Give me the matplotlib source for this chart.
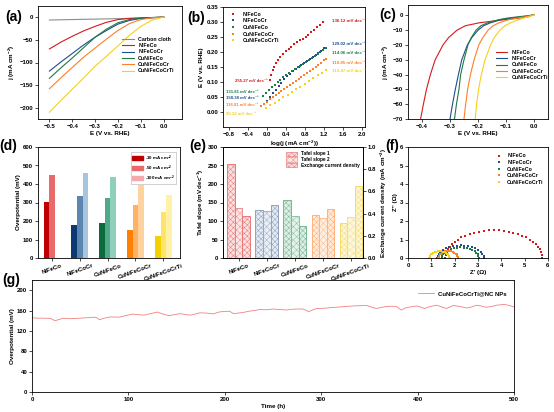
import numpy as np
import matplotlib
matplotlib.use("Agg")
import matplotlib.pyplot as plt
from matplotlib.patches import Patch

plt.rcParams["font.family"] = ["Liberation Sans", "DejaVu Sans"]
plt.rcParams["font.weight"] = "bold"
plt.rcParams["axes.labelweight"] = "bold"
plt.rcParams["mathtext.fontset"] = "custom"
plt.rcParams["mathtext.rm"] = "Liberation Sans:bold"
plt.rcParams["mathtext.it"] = "Liberation Sans:bold"
plt.rcParams["mathtext.bf"] = "Liberation Sans:bold"
plt.rcParams["mathtext.default"] = "rm"
plt.rcParams["font.size"] = 4.5
plt.rcParams["axes.linewidth"] = 0.6
plt.rcParams["xtick.major.width"] = 0.5
plt.rcParams["ytick.major.width"] = 0.5
plt.rcParams["xtick.major.size"] = 2
plt.rcParams["ytick.major.size"] = 2
plt.rcParams["xtick.major.pad"] = 1.5
plt.rcParams["ytick.major.pad"] = 1.5
plt.rcParams["axes.labelpad"] = 1.5
plt.rcParams["hatch.linewidth"] = 0.35
plt.rcParams["legend.fontsize"] = 3.8

W, H = 554, 412

samples = ["NiFeCo", "NiFeCoCr", "CuNiFeCo", "CuNiFeCoCr", "CuNiFeCoCrTi"]
colors = ["#D7191C", "#1F4E8C", "#1E7B45", "#FF7F27", "#F7D117"]

# (a) LSV
a_e = [-0.5, -0.45, -0.4, -0.35, -0.3, -0.25, -0.2, -0.15, -0.1, -0.05, 0.0]
a_cloth = [-6, -5.5, -5, -4.5, -4, -3.5, -3, -2.4, -1.8, -1, 0]
a_j = {
    "NiFeCo": [-70, -55, -42, -30, -20, -11, -5, -2.5, -1.2, -0.5, 0],
    "NiFeCoCr": [-119, -99, -80, -61, -44, -29, -15, -7, -2.5, -0.8, 0.5],
    "CuNiFeCo": [-135, -112, -90, -67, -44, -26, -12, -5, -2, -0.5, 0.5],
    "CuNiFeCoCr": [-158, -134, -111, -88, -68, -48, -29, -14, -5, -1, 0.5],
    "CuNiFeCoCrTi": [-210, -184, -159, -134, -108, -86, -63, -40, -20, -6, 0.5],
}

# (b) Tafel
b_x = {
    "NiFeCo": [0.07, 0.09, 0.12, 0.15, 0.19, 0.23, 0.28, 0.33, 0.39, 0.45, 0.51, 0.57, 0.63, 0.69, 0.75, 0.81, 0.87, 0.93, 0.99, 1.05, 1.11, 1.17],
    "NiFeCoCr": [0.00, 0.06, 0.12, 0.18, 0.24, 0.30, 0.36, 0.42, 0.48, 0.54, 0.60, 0.66, 0.72, 0.78, 0.84, 0.90, 0.96, 1.02, 1.08, 1.14, 1.20],
    "CuNiFeCo": [-0.08, -0.02, 0.04, 0.10, 0.16, 0.22, 0.28, 0.34, 0.40, 0.46, 0.52, 0.58, 0.64, 0.70, 0.76, 0.82, 0.88, 0.94, 1.00, 1.06, 1.12, 1.18, 1.23],
    "CuNiFeCoCr": [-0.12, -0.06, 0.00, 0.06, 0.12, 0.18, 0.24, 0.30, 0.36, 0.42, 0.48, 0.54, 0.60, 0.66, 0.72, 0.78, 0.84, 0.90, 0.96, 1.02, 1.08, 1.14, 1.20, 1.24],
    "CuNiFeCoCrTi": [-0.02, 0.07, 0.16, 0.25, 0.34, 0.43, 0.52, 0.61, 0.70, 0.79, 0.88, 0.97, 1.06, 1.15, 1.24],
}
b_y = {
    "NiFeCo": [0.108, 0.124, 0.139, 0.151, 0.163, 0.174, 0.184, 0.192, 0.203, 0.210, 0.218, 0.226, 0.233, 0.239, 0.245, 0.251, 0.258, 0.266, 0.274, 0.282, 0.291, 0.300],
    "NiFeCoCr": [0.038, 0.050, 0.062, 0.074, 0.086, 0.098, 0.109, 0.119, 0.128, 0.136, 0.143, 0.150, 0.157, 0.164, 0.171, 0.178, 0.185, 0.191, 0.198, 0.205, 0.212],
    "CuNiFeCo": [0.055, 0.064, 0.073, 0.082, 0.091, 0.100, 0.108, 0.116, 0.123, 0.130, 0.137, 0.143, 0.149, 0.155, 0.161, 0.167, 0.173, 0.180, 0.186, 0.192, 0.199, 0.206, 0.213],
    "CuNiFeCoCr": [0.021, 0.028, 0.035, 0.042, 0.049, 0.056, 0.063, 0.070, 0.076, 0.083, 0.090, 0.097, 0.104, 0.110, 0.117, 0.124, 0.131, 0.138, 0.144, 0.151, 0.158, 0.165, 0.172, 0.177],
    "CuNiFeCoCrTi": [0.013, 0.022, 0.031, 0.040, 0.049, 0.058, 0.067, 0.076, 0.085, 0.094, 0.103, 0.113, 0.122, 0.131, 0.141],
}
b_right = ["136.12", "129.02", "114.06", "110.85", "113.47"]
b_right_y = [0.305, 0.228, 0.196, 0.163, 0.135]
b_left = ["255.27", "158.38", "131.81", "116.81", "95.32"]
b_left_y = [0.104, 0.046, 0.068, 0.024, -0.008]

# (c) LSV zoom
c_j = [0.5, 0, -1, -2, -3, -5, -7, -10, -15, -20, -30, -40, -50, -60, -70]
c_e = {
    "NiFeCo": [0.0, -0.01, -0.02, -0.06, -0.11, -0.195, -0.245, -0.275, -0.305, -0.325, -0.353, -0.37, -0.384, -0.395, -0.405],
    "NiFeCoCr": [0.0, -0.01, -0.04, -0.09, -0.12, -0.155, -0.18, -0.2, -0.222, -0.238, -0.258, -0.27, -0.281, -0.291, -0.3],
    "CuNiFeCo": [0.0, -0.01, -0.06, -0.1, -0.128, -0.165, -0.19, -0.207, -0.224, -0.236, -0.25, -0.262, -0.268, -0.277, -0.284],
    "CuNiFeCoCr": [0.0, -0.005, -0.033, -0.065, -0.092, -0.125, -0.146, -0.164, -0.183, -0.197, -0.214, -0.227, -0.237, -0.244, -0.25],
    "CuNiFeCoCrTi": [0.0, -0.005, -0.02, -0.04, -0.057, -0.083, -0.104, -0.122, -0.142, -0.155, -0.175, -0.188, -0.198, -0.205, -0.21],
}

# (d) overpotentials
d_10 = [301, 180, 189, 153, 117]
d_50 = [450, 337, 324, 288, 247]
d_100 = [np.nan, 459, 436, 393, 342]
d_shades = [
    ["#C00000", "#E86A6A", "#F4AAAA"],
    ["#0B3A73", "#5B86B0", "#A9C4DD"],
    ["#0D6B3B", "#4FA88A", "#8FD0BC"],
    ["#FF7F00", "#FFB266", "#FFD39E"],
    ["#F5D000", "#FFE46A", "#FFF1A8"],
]

# (e) Tafel slopes / exchange current density
e_t1 = [255, 131, 157, 115, 95]
e_t2 = [135, 128, 113, 109, 111]
e_j0 = [0.377, 0.48, 0.29, 0.437, 0.65]
e_edge = ["#E8787A", "#8EA3BF", "#79B893", "#FFB37A", "#F5DC6E"]
e_face = ["#FBE0E0", "#E4EAF2", "#DDEFE4", "#FFEBDC", "#FDF6D5"]

# (f) Nyquist
f_x = {
    "NiFeCo": [1.60, 1.61, 1.65, 1.70, 1.78, 1.88, 2.00, 2.13, 2.29, 2.46, 2.64, 2.83, 3.03, 3.24, 3.46, 3.68, 3.89, 4.11, 4.32, 4.52, 4.71, 4.90, 5.06, 5.22, 5.35, 5.47, 5.57, 5.65, 5.71, 5.74, 5.75],
    "NiFeCoCr": [1.25, 1.27, 1.31, 1.38, 1.48, 1.61, 1.75, 1.91, 2.08, 2.25, 2.42, 2.59, 2.75, 2.89, 3.02, 3.12, 3.19, 3.24, 3.25],
    "CuNiFeCo": [1.45, 1.46, 1.50, 1.56, 1.63, 1.73, 1.85, 1.97, 2.10, 2.24, 2.38, 2.51, 2.64, 2.75, 2.85, 2.92, 2.98, 3.02, 3.03],
    "CuNiFeCoCr": [1.30, 1.31, 1.33, 1.36, 1.40, 1.45, 1.51, 1.58, 1.65, 1.72, 1.79, 1.86, 1.93, 1.99, 2.04, 2.08, 2.11, 2.13, 2.14],
    "CuNiFeCoCrTi": [0.92, 0.93, 0.95, 0.98, 1.02, 1.07, 1.14, 1.20, 1.28, 1.35, 1.42, 1.50, 1.57, 1.63, 1.68, 1.72, 1.75, 1.77, 1.78],
}
f_y = {
    "NiFeCo": [0.00, 0.16, 0.31, 0.46, 0.61, 0.75, 0.88, 1.00, 1.11, 1.21, 1.30, 1.37, 1.43, 1.47, 1.49, 1.50, 1.49, 1.47, 1.43, 1.37, 1.30, 1.21, 1.11, 1.00, 0.88, 0.75, 0.61, 0.46, 0.31, 0.16, 0.00],
    "NiFeCoCr": [0, 0.12, 0.23, 0.34, 0.44, 0.52, 0.59, 0.64, 0.67, 0.68, 0.67, 0.64, 0.59, 0.52, 0.44, 0.34, 0.23, 0.12, 0],
    "CuNiFeCo": [0, 0.10, 0.19, 0.29, 0.37, 0.44, 0.49, 0.54, 0.56, 0.57, 0.56, 0.54, 0.49, 0.44, 0.37, 0.29, 0.19, 0.10, 0],
    "CuNiFeCoCr": [0, 0.07, 0.13, 0.19, 0.24, 0.29, 0.33, 0.36, 0.37, 0.38, 0.37, 0.36, 0.33, 0.29, 0.24, 0.19, 0.13, 0.07, 0],
    "CuNiFeCoCrTi": [0, 0.06, 0.13, 0.19, 0.24, 0.28, 0.32, 0.35, 0.36, 0.37, 0.36, 0.35, 0.32, 0.28, 0.24, 0.19, 0.13, 0.06, 0],
}

# (g) stability
g_t = [0, 5, 12, 19, 24, 28, 33, 40, 50, 58, 66, 70, 75, 81, 91, 97, 104, 110, 116, 123, 130, 136, 142, 148, 154, 159, 164, 169, 174, 181, 188, 195, 205, 209, 216, 221, 226, 231, 236, 243, 250, 257, 264, 270, 275, 281, 287, 291, 295, 304, 312, 319, 326, 333, 340, 347, 352, 357, 362, 368, 373, 378, 383, 387, 392, 399, 403, 407, 413, 420, 425, 430, 437, 444, 451, 456, 461, 466, 471, 477, 482, 490, 495, 500]
g_v = [146, 145, 145, 144.5, 140, 142.5, 145, 144, 145, 146, 147, 142, 145, 147.5, 147, 150, 153, 152, 151, 154, 157, 153, 150, 152, 154, 152, 151, 153, 155.5, 155, 153.5, 157.5, 158.7, 154, 155.5, 157, 159, 160, 162, 161.5, 163, 162, 161, 162.5, 163, 163, 158, 161, 164, 164.6, 166, 167, 168, 169, 169.5, 170, 167, 164, 166, 168, 168.5, 168, 161, 165, 167, 169, 167, 164, 168, 170.5, 167, 164, 170, 168, 165, 167, 170.5, 169, 166.5, 168, 170.5, 172, 170, 167]


def box(l, t, r, b):
    return [l / W, 1 - b / H, (r - l) / W, (b - t) / H]


def style(ax):
    ax.tick_params(direction="out", labelsize=4.3)
    for lab in ax.get_xticklabels() + ax.get_yticklabels():
        lab.set_fontweight("bold")


fig = plt.figure(figsize=(W / 100, H / 100), dpi=100)

# (a)
ax = fig.add_axes(box(38, 6, 182, 119))
ax.plot(a_e, a_cloth, color="#8C8C8C", lw=0.8, label="Carbon cloth")
for s, c in zip(samples, colors):
    ax.plot(a_e, a_j[s], color=c, lw=0.8, label=s)
ax.set_xlim(-0.55, 0.08)
ax.set_ylim(-225, 25)
ax.set_xticks([-0.5, -0.4, -0.3, -0.2, -0.1, 0.0])
ax.set_yticks([0, -50, -100, -150, -200])
ax.set_xlabel("E (V vs. RHE)")
ax.set_ylabel("j (mA cm$^{-2}$)")
ax.legend(loc="upper left", bbox_to_anchor=(0.56, 0.76), frameon=False,
          handlelength=2.2, labelspacing=0.25, borderpad=0.2)
style(ax)

# (b)
ax = fig.add_axes(box(223, 7, 365, 127))
for i, (s, c) in enumerate(zip(samples, colors)):
    ax.plot(b_x[s], b_y[s], "s", color=c, ms=1.7, mew=0, label=s)
    ax.text(1.36, b_right_y[i], b_right[i] + " mV dec⁻¹", color=c, fontsize=3.2, va="center")
    ax.text(0.0 if i == 0 else -0.86, b_left_y[i], b_left[i] + " mV dec⁻¹", color=c,
            fontsize=3.1, va="center", ha="right" if i == 0 else "left")
ax.set_xlim(-0.93, 2.06)
ax.set_ylim(-0.05, 0.35)
ax.set_xticks([-0.8, -0.4, 0.0, 0.4, 0.8, 1.2, 1.6, 2.0])
ax.set_yticks([0.0, 0.05, 0.10, 0.15, 0.20, 0.25, 0.30, 0.35])
ax.set_yticklabels(["0.00", "0.05", "0.10", "0.15", "0.20", "0.25", "0.30", "0.35"])
ax.set_xlabel("log(j (mA cm$^{-2}$))")
ax.set_ylabel("E (V vs. RHE)")
ax.legend(loc="upper left", bbox_to_anchor=(0.0, 1.0), frameon=False,
          handletextpad=0.8, labelspacing=0.3, borderpad=0.4, markerscale=1.2)
style(ax)

# (c)
ax = fig.add_axes(box(408, 5, 548, 119))
for s, c in zip(samples, colors):
    ax.plot(c_e[s], c_j, color=c, lw=0.8, label=s)
ax.set_xlim(-0.45, 0.05)
ax.set_ylim(-70, 7)
ax.set_xticks([-0.4, -0.3, -0.2, -0.1, 0.0])
ax.set_yticks([0, -10, -20, -30, -40, -50, -60, -70])
ax.set_xlabel("E (V vs. RHE)")
ax.set_ylabel("j (mA cm$^{-2}$)")
ax.legend(loc="upper left", bbox_to_anchor=(0.6, 0.64), frameon=False,
          handlelength=2.2, labelspacing=0.25, borderpad=0.2)
style(ax)

# (d)
ax = fig.add_axes(box(38, 147, 180, 258))
x = np.arange(len(samples))
for k, vals in enumerate([d_10, d_50, d_100]):
    ax.bar(x + k * 0.2, vals, width=0.2, color=[d_shades[i][k] for i in range(5)])
ax.set_xlim(-0.3, 4.8)
ax.set_ylim(0, 600)
ax.set_yticks(range(0, 601, 100))
ax.set_xticks(x + 0.2)
ax.set_xticklabels(samples, rotation=20)
ax.set_ylabel("Overpotential (mV)")
handles = [Patch(color=d_shades[0][k]) for k in range(3)]
leg = ax.legend(handles, ["-10 mA cm$^{-2}$", "-50 mA cm$^{-2}$", "-100 mA cm$^{-2}$"],
                loc="upper right", bbox_to_anchor=(0.99, 0.975), frameon=True, fancybox=False,
                edgecolor="#999999", fontsize=3.2, handlelength=2.4, handleheight=1.0,
                labelspacing=0.15, borderpad=0.3, handletextpad=0.5)
leg.get_frame().set_linewidth(0.4)
style(ax)

# (e)
ax = fig.add_axes(box(223, 147, 363, 258))
ax2 = ax.twinx()
w = 0.27
ax.bar(x, e_t1, width=w, color=e_face, edgecolor=e_edge, hatch="xxxxxx", lw=0.7)
ax.bar(x + w, e_t2, width=w, color=e_face, edgecolor=e_edge, hatch="xxxxx", lw=0.7, alpha=0.8)
ax2.bar(x + 2 * w, e_j0, width=w, color=e_face, edgecolor=e_edge, hatch="xxxxxx", lw=0.7)
ax.set_xlim(-0.29, 4.7)
ax.set_ylim(0, 300)
ax2.set_ylim(0, 1.0)
ax.set_yticks(range(0, 301, 50))
ax2.set_yticks([0, 0.2, 0.4, 0.6, 0.8, 1.0])
ax.set_xticks(x + w)
ax.set_xticklabels(samples, rotation=20)
ax.set_ylabel("Tafel slope (mV dec$^{-1}$)")
ax2.set_ylabel("Exchange current density (mA cm$^{-2}$)")
handles = [Patch(facecolor=e_face[0], edgecolor=e_edge[0], hatch="xxxxxx", lw=0.5),
           Patch(facecolor=e_face[0], edgecolor=e_edge[0], hatch="xxxxx", lw=0.5, alpha=0.8),
           Patch(facecolor=e_face[0], edgecolor=e_edge[0], hatch="xxxxxx", lw=0.5)]
ax2.legend(handles, ["Tafel slope 1", "Tafel slope 2", "Exchange current density"],
           loc="upper right", bbox_to_anchor=(1.0, 0.99), frameon=False, fontsize=3.4,
           handlelength=2.4, handleheight=1.0, labelspacing=0.15, borderpad=0.2)
style(ax)
style(ax2)

# (f)
ax = fig.add_axes(box(408, 147, 548, 258))
for s, c in zip(samples, colors):
    ax.plot(f_x[s], f_y[s], "s", color=c, ms=1.6, mew=0, label=s)
ax.set_xlim(0, 6)
ax.set_ylim(0, 6)
ax.set_xticks(range(7))
ax.set_yticks(range(7))
ax.set_xlabel("Z' (Ω)")
ax.set_ylabel("Z'' (Ω)")
ax.legend(loc="upper left", bbox_to_anchor=(0.58, 0.98), frameon=False,
          handletextpad=0.6, labelspacing=0.3, borderpad=0.3, markerscale=1.3)
style(ax)

# (g)
ax = fig.add_axes(box(32, 280, 514, 392))
ax.plot(g_t, g_v, color="#F28080", lw=0.6, label="CuNiFeCoCrTi@NC NPs")
ax.set_xlim(0, 500)
ax.set_ylim(0, 220)
ax.set_yticks(range(0, 201, 40))
ax.set_xticks(range(0, 501, 100))
ax.set_xlabel("Time (h)")
ax.set_ylabel("Overpotential (mV)")
ax.legend(loc="upper left", bbox_to_anchor=(0.79, 0.95), frameon=False,
          handlelength=2.6, fontsize=4.3)
style(ax)

for lab, px, py in [("(a)", 14, 17), ("(b)", 196, 18), ("(c)", 388, 15),
                    ("(d)", 8, 146), ("(e)", 198, 146), ("(f)", 392, 146), ("(g)", 11, 280)]:
    fig.text(px / W, 1 - py / H, lab, fontsize=10, fontweight="bold", ha="center", va="center")

fig.savefig("out.png", dpi=100)
